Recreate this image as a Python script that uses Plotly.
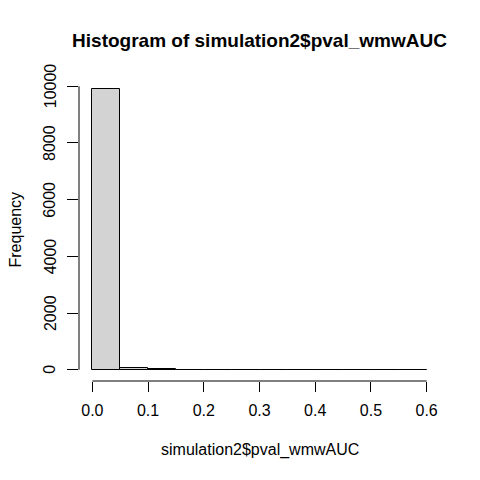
import plotly.graph_objects as go

# Data
breaks = [0.0, 0.05, 0.10, 0.15, 0.20, 0.25, 0.30, 0.35, 0.40, 0.45, 0.50, 0.55, 0.60]
counts = [9895, 75, 20, 5, 3, 1, 1, 0, 0, 0, 0, 0]
x_ticks = [0.0, 0.1, 0.2, 0.3, 0.4, 0.5, 0.6]
x_tick_labels = ["0.0", "0.1", "0.2", "0.3", "0.4", "0.5", "0.6"]
y_ticks = [0, 2000, 4000, 6000, 8000, 10000]
y_tick_labels = ["0", "2000", "4000", "6000", "8000", "10000"]

mids = [(breaks[i] + breaks[i + 1]) / 2 for i in range(len(counts))]
widths = [breaks[i + 1] - breaks[i] for i in range(len(counts))]

FONT = "Liberation Sans, Arial, Helvetica, sans-serif"

# page body has an 8px margin; figure is placed at (8, 8)
W = H = 464

fig = go.Figure()
fig.add_trace(go.Bar(
    x=mids, y=counts, width=widths,
    marker=dict(color="#D3D3D3", line=dict(color="#000000", width=1)),
    hoverinfo="x+y",
))

# R-style ylim/xlim with 4% extension
xlo, xhi = breaks[0], breaks[-1]
ymax = max(counts)
xpad = 0.04 * (xhi - xlo)
ypad = 0.04 * ymax

fig.update_layout(
    width=W, height=H,
    margin=dict(l=71, r=32, t=70, b=90.5, autoexpand=False),
    paper_bgcolor="white", plot_bgcolor="white",
    showlegend=False, bargap=0,
    font=dict(family=FONT, size=16, color="black"),
    title=dict(text="<b>Histogram of simulation2$pval_wmwAUC</b>",
               x=0.5, xanchor="center", xref="paper",
               y=1 - 32 / H, yanchor="middle",
               yref="container", font=dict(family=FONT, size=19, color="black")),
    xaxis=dict(range=[xlo - xpad, xhi + xpad], tickmode="array",
               tickvals=x_ticks, ticktext=x_tick_labels, ticks="outside",
               ticklen=10, tickcolor="black", tickwidth=1, ticklabelstandoff=5,
               showgrid=False, zeroline=False, showline=False,
               tickfont=dict(size=16, family=FONT, color="black")),
    yaxis=dict(range=[-ypad, ymax + ypad], tickmode="array",
               tickvals=y_ticks, ticks="outside", showticklabels=False,
               ticklen=11, tickcolor="black", tickwidth=1,
               showgrid=False, zeroline=False, showline=False),
)

# R-style axis lines spanning first to last tick
fig.add_shape(type="line", xref="x", yref="paper",
              x0=x_ticks[0], x1=x_ticks[-1], y0=0, y1=0,
              line=dict(color="black", width=1))
fig.add_shape(type="line", xref="paper", yref="y",
              x0=0, x1=0, y0=y_ticks[0], y1=y_ticks[-1],
              line=dict(color="black", width=1))

# y tick labels, parallel to the axis as in R
for v, t in zip(y_ticks, y_tick_labels):
    fig.add_annotation(text=t, xref="paper", yref="y", x=0, y=v,
                       xanchor="center", yanchor="middle", xshift=-29,
                       textangle=-90, showarrow=False,
                       font=dict(family=FONT, size=16, color="black"))

fig.add_annotation(text="simulation2$pval_wmwAUC", xref="paper", yref="paper",
                   x=0.5, y=0, xanchor="center", yanchor="middle", yshift=-69,
                   showarrow=False, font=dict(family=FONT, size=16, color="black"))
fig.add_annotation(text="Frequency", xref="paper", yref="paper",
                   x=0, y=0.5, xanchor="center", yanchor="middle", xshift=-64,
                   textangle=-90, showarrow=False,
                   font=dict(family=FONT, size=16, color="black"))

fig.write_html("out.html")
